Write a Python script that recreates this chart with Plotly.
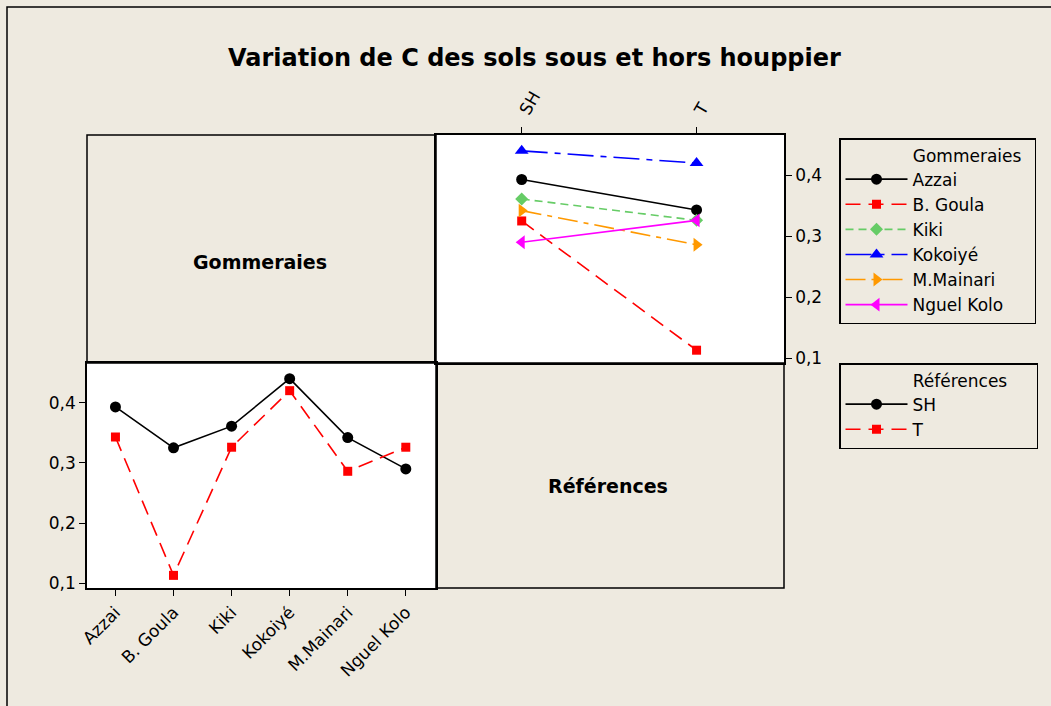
import plotly.graph_objects as go

W, H = 1051, 706
BG = "#EEEAE0"

gommeraies = ["Azzai", "B. Goula", "Kiki", "Kokoiyé", "M.Mainari", "Nguel Kolo"]
references = ["SH", "T"]
sh_values = [0.393, 0.325, 0.361, 0.440, 0.342, 0.290]
t_values = [0.343, 0.113, 0.326, 0.420, 0.286, 0.326]

g_colors = ["#000000", "#FF0000", "#66CC66", "#0000FF", "#FF9900", "#FF00FF"]
g_symbols = ["circle", "square", "diamond", "triangle-up", "triangle-right", "triangle-left"]
g_dashes = ["solid", "15px,8px", "8px,5px", "26px,7px,6px,7px", "20px,6px,5px,6px", "solid"]
g_sizes = [11, 9, 10, 12, 12, 12]

r_colors = ["#000000", "#FF0000"]
r_symbols = ["circle", "square"]
r_dashes = ["solid", "15px,8px"]
r_sizes = [11, 9]


def px(x):
    return x / W


def py(y):
    return 1 - y / H


fig = go.Figure()

# Top-right panel: x = Références, one line per Gommeraie
for i, g in enumerate(gommeraies):
    fig.add_trace(go.Scatter(
        x=references, y=[sh_values[i], t_values[i]], mode="lines+markers", name=g,
        xaxis="x2", yaxis="y2", legend="legend",
        line=dict(color=g_colors[i], dash=g_dashes[i], width=1.6),
        marker=dict(color=g_colors[i], symbol=g_symbols[i], size=g_sizes[i]),
    ))

# Bottom-left panel: x = Gommeraies, one line per Référence
for j, (r, vals) in enumerate(zip(references, [sh_values, t_values])):
    fig.add_trace(go.Scatter(
        x=gommeraies, y=vals, mode="lines+markers", name=r,
        xaxis="x", yaxis="y", legend="legend2",
        line=dict(color=r_colors[j], dash=r_dashes[j], width=1.6),
        marker=dict(color=r_colors[j], symbol=r_symbols[j], size=r_sizes[j]),
    ))

FONT = "DejaVu Sans"
axis_common = dict(showgrid=False, zeroline=False, showline=True, linecolor="black",
                   linewidth=1.5, mirror=True, ticks="outside", ticklen=6,
                   tickcolor="black", tickwidth=1.2, automargin=False,
                   tickfont=dict(family=FONT, size=17, color="black"))
yr = [0.092, 0.466]
LEG_FONT = dict(family=FONT, size=17, color="black")
NB = "\u00a0"

fig.update_layout(
    width=W, height=H,
    margin=dict(l=0, r=0, t=0, b=0, autoexpand=False),
    paper_bgcolor=BG, plot_bgcolor="white",
    separators=",.",
    font=dict(family=FONT, color="black"),
    xaxis=dict(domain=[px(87), px(436)], anchor="y", type="category",
               categoryarray=gommeraies, range=[-0.49, 5.52], tickangle=-45,
               **axis_common),
    yaxis=dict(domain=[py(588), py(363)], anchor="x", range=yr,
               tickvals=[0.1, 0.2, 0.3, 0.4], tickformat=".1f", **axis_common),
    xaxis2=dict(domain=[px(436), px(784)], anchor="y2", type="category",
                categoryarray=references, range=[-0.49, 1.5], side="top",
                tickangle=-60, **axis_common),
    yaxis2=dict(domain=[py(363), py(135)], anchor="x2", range=yr, side="right",
                tickvals=[0.1, 0.2, 0.3, 0.4], tickformat=".1f", **axis_common),
    legend=dict(x=px(839), y=py(138), xanchor="left", yanchor="top",
                bgcolor=BG, bordercolor="black", borderwidth=1.5,
                font=LEG_FONT,
                title=dict(text=NB * 13 + "Gommeraies" + NB * 2, font=LEG_FONT),
                itemwidth=62, tracegroupgap=0),
    legend2=dict(x=px(839), y=py(363), xanchor="left", yanchor="top",
                 bgcolor=BG, bordercolor="black", borderwidth=1.5,
                 font=LEG_FONT,
                 title=dict(text=NB * 13 + "Références" + NB * 5, font=LEG_FONT),
                 itemwidth=62, tracegroupgap=0),
    showlegend=True,
)

# Diagonal panels borders and outer frame
shapes = [
    dict(type="rect", xref="paper", yref="paper", x0=px(87), x1=px(436),
         y0=py(363), y1=py(135), line=dict(color="black", width=1.5), fillcolor=BG, layer="below"),
    dict(type="rect", xref="paper", yref="paper", x0=px(436), x1=px(784),
         y0=py(588), y1=py(363), line=dict(color="black", width=1.5), fillcolor=BG, layer="below"),
    dict(type="rect", xref="paper", yref="paper", x0=px(7), x1=px(1070),
         y0=py(730), y1=py(7), line=dict(color="black", width=1.5), fillcolor="rgba(0,0,0,0)", layer="below"),
]
fig.update_layout(shapes=shapes)

annotations = [
    dict(text="<b>Variation de C des sols sous et hors houppier</b>", x=px(534), y=py(58),
         xref="paper", yref="paper", showarrow=False, xanchor="center", yanchor="middle",
         font=dict(family=FONT, size=24, color="black")),
    dict(text="<b>Gommeraies</b>", x=px(260), y=py(262), xref="paper", yref="paper",
         showarrow=False, xanchor="center", yanchor="middle",
         font=dict(family=FONT, size=19, color="black")),
    dict(text="<b>Références</b>", x=px(608), y=py(486), xref="paper", yref="paper",
         showarrow=False, xanchor="center", yanchor="middle",
         font=dict(family=FONT, size=19, color="black")),
]
fig.update_layout(annotations=annotations)

fig.write_html("out.html", config={"displayModeBar": False},
               post_script="document.body.style.margin='0';document.body.style.overflow='hidden';")
